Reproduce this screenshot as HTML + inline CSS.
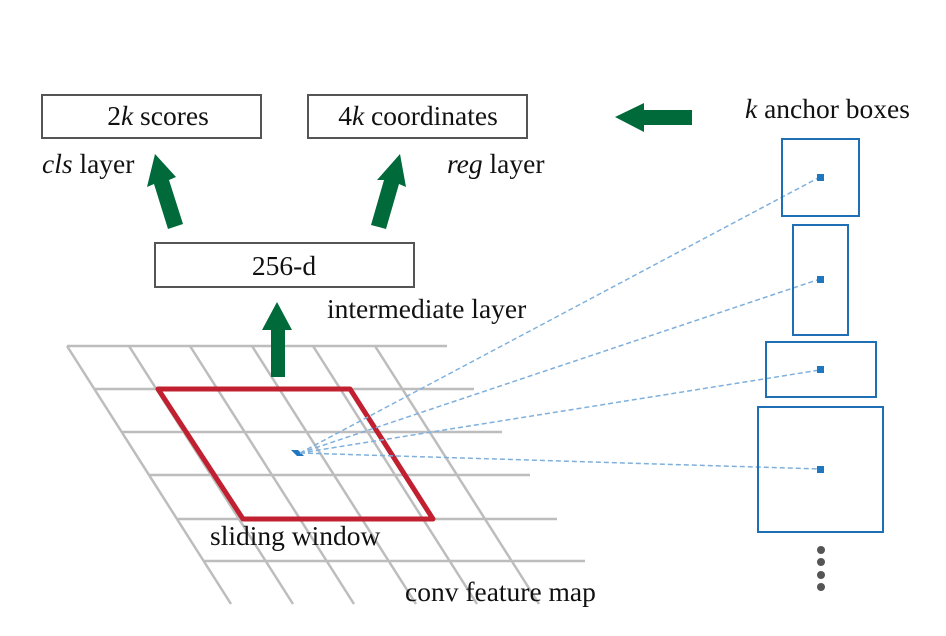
<!DOCTYPE html>
<html><head><style>
body{margin:0;background:#fff}
svg text{font-family:"Liberation Serif",serif;font-size:27.5px;fill:#111}
</style></head><body>
<svg width="946" height="631" viewBox="0 0 946 631" xmlns="http://www.w3.org/2000/svg">
<rect width="946" height="631" fill="#fff"/>
<!-- grid -->
<g stroke="#bdbdbd" stroke-width="2.5" fill="none">
<line x1="67" y1="346" x2="447" y2="346"/>
<line x1="95" y1="389" x2="474" y2="389"/>
<line x1="122" y1="432" x2="502" y2="432"/>
<line x1="150" y1="475" x2="530" y2="475"/>
<line x1="177" y1="519" x2="557" y2="519"/>
<line x1="204" y1="561" x2="585" y2="561"/>
<line x1="67" y1="346" x2="231" y2="604"/>
<line x1="129" y1="346" x2="293" y2="604"/>
<line x1="190" y1="346" x2="354" y2="604"/>
<line x1="252" y1="346" x2="416" y2="604"/>
<line x1="313" y1="346" x2="477" y2="604"/>
<line x1="375" y1="346" x2="539" y2="604"/>
</g>
<polygon points="158,389 350,389 433,519 243,519" fill="none" stroke="#c0202f" stroke-width="5" stroke-linejoin="round"/>
<polygon points="291,450 298,450 304,456 297,456" fill="#1f77c0"/>
<!-- dashed lines -->
<g stroke="#7fb0dd" stroke-width="1.5" stroke-dasharray="5,3" fill="none">
<line x1="300" y1="453" x2="820" y2="177"/>
<line x1="300" y1="453" x2="820" y2="279"/>
<line x1="300" y1="453" x2="820" y2="370"/>
<line x1="300" y1="453" x2="820" y2="469"/>
</g>
<!-- anchor boxes -->
<g stroke="#1f6fb5" stroke-width="2" fill="none">
<rect x="782" y="139" width="77" height="77"/>
<rect x="793" y="225" width="55" height="110"/>
<rect x="766" y="342" width="110" height="55"/>
<rect x="758" y="407" width="125" height="125"/>
</g>
<g fill="#1f77c0">
<rect x="817" y="174" width="7" height="7"/>
<rect x="817" y="276" width="7" height="7"/>
<rect x="817" y="366" width="7" height="7"/>
<rect x="817" y="466" width="7" height="7"/>
</g>
<g fill="#555">
<circle cx="821" cy="550" r="4"/><circle cx="821" cy="562" r="4"/>
<circle cx="821" cy="575" r="4"/><circle cx="821" cy="587" r="4"/>
</g>
<!-- boxes -->
<g stroke="#555" stroke-width="2" fill="#fff">
<rect x="42" y="95" width="219" height="43"/>
<rect x="308" y="95" width="219" height="43"/>
<rect x="155" y="243" width="259" height="44"/>
</g>
<text x="158" y="125" text-anchor="middle">2<tspan font-style="italic">k</tspan> scores</text>
<text x="418" y="125" text-anchor="middle">4<tspan font-style="italic">k</tspan> coordinates</text>
<text x="284" y="275" text-anchor="middle">256-d</text>
<text x="42" y="173"><tspan font-style="italic">cls</tspan> layer</text>
<text x="447" y="173"><tspan font-style="italic">reg</tspan> layer</text>
<text x="327" y="318">intermediate layer</text>
<text x="745" y="118"><tspan font-style="italic">k</tspan> anchor boxes</text>
<text x="210" y="545">sliding window</text>
<text x="405" y="601">conv feature map</text>
<!-- arrows -->
<g fill="#006a3a">
<polygon points="155,154 176,177 169,180 183,224 168,229 154,184 147,187"/>
<polygon points="400,154 406,187 399,184 386,229 371,225 384,180 377,180"/>
<polygon points="277,302 292,330 285,330 285,377 271,377 271,330 262,330"/>
<polygon points="615,117 644,103 644,110 692,110 692,125 644,125 644,132"/>
</g>
</svg>
</body></html>
